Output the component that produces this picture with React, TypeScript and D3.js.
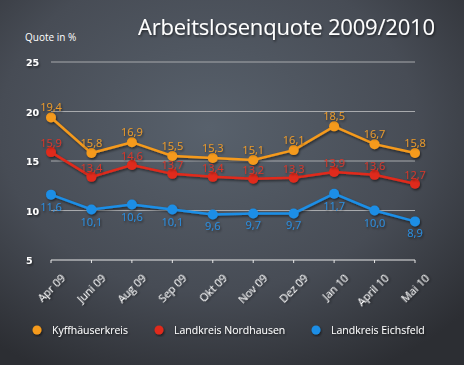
import React, { useEffect, useRef } from "react";
import * as d3 from "d3";

const months = ["Apr 09", "Juni 09", "Aug 09", "Sep 09", "Okt 09", "Nov 09", "Dez 09", "Jan 10", "April 10", "Mai 10"];
const kyffhaeuser = [19.4, 15.8, 16.9, 15.5, 15.3, 15.1, 16.1, 18.5, 16.7, 15.8];
const nordhausen = [15.9, 13.4, 14.6, 13.7, 13.4, 13.2, 13.3, 13.9, 13.6, 12.7];
const eichsfeld = [11.6, 10.1, 10.6, 10.1, 9.6, 9.7, 9.7, 11.7, 10.0, 8.9];
const yTicks = [5, 10, 15, 20, 25];

const seriesList = [
  { name: "Kyffhäuserkreis", values: kyffhaeuser, color: "#f59a1c", label: "#eb9a2a", dy: -6 },
  { name: "Landkreis Nordhausen", values: nordhausen, color: "#e02a1a", label: "#d8362a", dy: -5 },
  { name: "Landkreis Eichsfeld", values: eichsfeld, color: "#1b8ee6", label: "#2a8ee0", dy: 16 },
];

const W = 464;
const H = 365;

const App = () => {
  const ref = useRef<SVGSVGElement>(null);

  useEffect(() => {
    const svg = d3.select(ref.current);
    svg.selectAll("*").remove();

    const defs = svg.append("defs");
    const bg = defs.append("radialGradient").attr("id", "bg").attr("cx", "45%").attr("cy", "35%").attr("r", "75%");
    bg.append("stop").attr("offset", "0%").attr("stop-color", "#58616c");
    bg.append("stop").attr("offset", "60%").attr("stop-color", "#474c55");
    bg.append("stop").attr("offset", "100%").attr("stop-color", "#2c2e33");
    const sh = defs.append("filter").attr("id", "sh").attr("x", "-20%").attr("y", "-20%").attr("width", "140%").attr("height", "140%");
    sh.append("feDropShadow").attr("dx", 1).attr("dy", 1.5).attr("stdDeviation", 1).attr("flood-color", "#000").attr("flood-opacity", 0.55);

    svg.append("rect").attr("width", W).attr("height", H).attr("fill", "url(#bg)");

    const x = d3.scalePoint<string>().domain(months).range([51, 415]);
    const y = d3.scaleLinear().domain([5, 25]).range([260, 62]);

    svg.append("text")
      .attr("x", 138).attr("y", 35)
      .attr("textLength", 297)
      .attr("font-family", "'Open Sans', sans-serif")
      .attr("font-size", 22)
      .attr("fill", "#fff")
      .attr("filter", "url(#sh)")
      .text("Arbeitslosenquote 2009/2010");

    svg.append("text")
      .attr("x", 25).attr("y", 41)
      .attr("font-family", "'Open Sans', sans-serif")
      .attr("font-size", 10)
      .attr("fill", "#fff")
      .text("Quote in %");

    // grid
    svg.append("g").selectAll("line").data(yTicks.filter((t) => t > 5)).join("line")
      .attr("x1", 51).attr("x2", 415)
      .attr("y1", (d) => y(d)).attr("y2", (d) => y(d))
      .attr("stroke", "#a8aaad").attr("stroke-width", 1);

    svg.append("g").selectAll("text").data(yTicks).join("text")
      .attr("x", 26).attr("y", (d) => y(d) + 4)
      .attr("font-family", "'DejaVu Sans', sans-serif")
      .attr("font-weight", "bold")
      .attr("font-size", 9.5)
      .attr("fill", "#fff")
      .attr("filter", "url(#sh)")
      .text((d) => d);

    // x axis
    const ax = svg.append("g");
    ax.append("line").attr("x1", 51).attr("x2", 415).attr("y1", y(5)).attr("y2", y(5))
      .attr("stroke", "#e8e8e8").attr("stroke-width", 1.2);
    ax.selectAll("line.tk").data(months).join("line").attr("class", "tk")
      .attr("x1", (d) => x(d)!).attr("x2", (d) => x(d)!)
      .attr("y1", y(5)).attr("y2", y(5) + 3)
      .attr("stroke", "#e8e8e8");
    ax.selectAll("text").data(months).join("text")
      .attr("transform", (d) => `translate(${x(d)! + 15},${y(5) + 19}) rotate(-45)`)
      .attr("text-anchor", "end")
      .attr("font-family", "'Open Sans', sans-serif")
      .attr("font-size", 11)
      .attr("fill", "#fff")
      .attr("filter", "url(#sh)")
      .text((d) => d);

    const line = d3.line<number>().x((_, i) => x(months[i])!).y((d) => y(d));

    seriesList.forEach((s) => {
      const g = svg.append("g").attr("filter", "url(#sh)");
      g.append("path").attr("d", line(s.values)).attr("fill", "none")
        .attr("stroke", s.color).attr("stroke-width", 2.5);
      g.selectAll("circle").data(s.values).join("circle")
        .attr("cx", (_, i) => x(months[i])!).attr("cy", (d) => y(d)).attr("r", 5)
        .attr("fill", s.color);
    });

    seriesList.forEach((s) => {
      svg.append("g").selectAll("text").data(s.values).join("text")
        .attr("x", (_, i) => x(months[i])!)
        .attr("y", (d) => y(d) + s.dy)
        .attr("text-anchor", "middle")
        .attr("font-family", "'Open Sans', sans-serif")
        .attr("font-size", 11)
        .attr("fill", s.label)
        .attr("filter", "url(#sh)")
        .text((d) => d.toFixed(1).replace(".", ","));
    });

    // legend
    const legX = [37, 159, 316];
    const lg = svg.append("g").selectAll("g").data(seriesList).join("g")
      .attr("transform", (_, i) => `translate(${legX[i]},330)`);
    lg.append("circle").attr("r", 4.5).attr("fill", (d) => d.color).attr("filter", "url(#sh)");
    lg.append("text").attr("x", 15).attr("y", 4)
      .attr("font-family", "'Open Sans', sans-serif")
      .attr("font-size", 10.5)
      .attr("fill", "#fff")
      .attr("filter", "url(#sh)")
      .text((d) => d.name);
  }, []);

  return (
    <div style={{ position: "absolute", left: 0, top: 0 }}>
      <svg ref={ref} width={W} height={H} style={{ display: "block" }} />
    </div>
  );
};

export default App;
